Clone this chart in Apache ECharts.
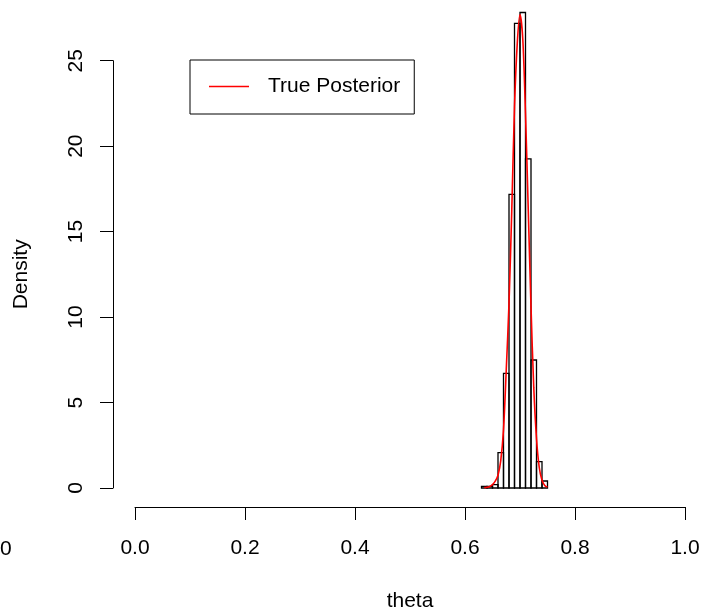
<!DOCTYPE html>
<html>
<head>
<meta charset="utf-8">
<script src="https://cdn.jsdelivr.net/npm/echarts@6/dist/echarts.min.js"></script>
<style>
html,body{margin:0;padding:0;background:#fff;}
#chart{width:708px;height:609px;}
</style>
</head>
<body>
<div id="chart"></div>
<script>
// Histogram bins (theta) and densities
const binStart = [0.63, 0.64, 0.65, 0.66, 0.67, 0.68, 0.69, 0.70, 0.71, 0.72, 0.73, 0.74];
const binEnd   = [0.64, 0.65, 0.66, 0.67, 0.68, 0.69, 0.70, 0.71, 0.72, 0.73, 0.74, 0.75];
const density  = [0.1, 0.1, 0.2, 2.07, 6.71, 17.18, 27.18, 27.82, 19.26, 7.49, 1.54, 0.41];

// True posterior curve
const curveX = [0.635, 0.64, 0.645, 0.65, 0.655, 0.66, 0.665, 0.67, 0.675, 0.68, 0.685, 0.69, 0.695, 0.70, 0.705, 0.71, 0.715, 0.72, 0.725, 0.73, 0.735, 0.74, 0.745, 0.75];
const curveY = [0.02, 0.04, 0.09, 0.2, 0.4, 0.75, 1.6, 3.4, 6.9, 10.8, 16.2, 22.3, 26.0, 27.7, 26.3, 21.9, 16.3, 10.6, 5.9, 2.9, 1.2, 0.45, 0.15, 0.05];

const xTicks = [0.0, 0.2, 0.4, 0.6, 0.8, 1.0];
const yTicks = [0, 5, 10, 15, 20, 25];

const FONT = '"Liberation Sans", Arial, Helvetica, sans-serif';
const chart = echarts.init(document.getElementById('chart'), null, {renderer: 'canvas'});

const histData = binStart.map((s, i) => [s, binEnd[i], density[i]]);
const curveData = curveX.map((x, i) => [x, curveY[i]]);

chart.setOption({
  animation: false,
  backgroundColor: '#fff',
  grid: {left: 135, right: 23, top: 60.7, bottom: 121, containLabel: false, outerBoundsMode: 'none'},
  xAxis: {
    type: 'value', min: xTicks[0], max: xTicks[xTicks.length - 1], interval: 0.2,
    offset: 19,
    name: 'theta', nameLocation: 'middle', nameGap: 84,
    nameTextStyle: {fontFamily: FONT, fontSize: 21, color: '#000'},
    axisLine: {show: true, onZero: false, lineStyle: {color: '#000', width: 1}},
    axisTick: {show: true, length: 13, lineStyle: {color: '#000'}},
    axisLabel: {fontFamily: FONT, fontSize: 21, color: '#000', margin: 31,
      formatter: v => v.toFixed(1)},
    splitLine: {show: false}
  },
  yAxis: {
    type: 'value', min: yTicks[0], max: yTicks[yTicks.length - 1], interval: 5,
    offset: 22,
    name: 'Density', nameLocation: 'middle', nameGap: 81, nameRotate: 90,
    nameTextStyle: {fontFamily: FONT, fontSize: 21, color: '#000'},
    axisLine: {show: true, onZero: false, lineStyle: {color: '#000', width: 1}},
    axisTick: {show: true, length: 13, lineStyle: {color: '#000'}},
    axisLabel: {fontFamily: FONT, fontSize: 21, color: '#000', margin: 26, rotate: 90},
    splitLine: {show: false}
  },
  legend: {
    data: ['True Posterior'],
    left: 190, top: 60,
    orient: 'vertical',
    borderColor: '#000', borderWidth: 1, borderRadius: 0,
    padding: [16, 14, 17, 19],
    itemWidth: 40, itemHeight: 14, itemGap: 0,
    icon: 'path://M0,7 L40,7 L40,8.5 L0,8.5 Z',
    textStyle: {fontFamily: FONT, fontSize: 21, color: '#000', padding: [0, 0, 0, 14]}
  },
  series: [
    {
      name: 'hist',
      type: 'custom',
      clip: false,
      data: histData,
      renderItem: function (params, api) {
        const p0 = api.coord([api.value(0), api.value(2)]);
        const p1 = api.coord([api.value(1), 0]);
        return {
          type: 'rect',
          shape: {x: p0[0], y: p0[1], width: p1[0] - p0[0], height: p1[1] - p0[1]},
          style: {fill: 'none', stroke: '#000', lineWidth: 1.3}
        };
      },
      z: 2
    },
    {
      name: 'True Posterior',
      type: 'line',
      clip: false,
      data: curveData,
      symbol: 'none',
      smooth: 0.3,
      itemStyle: {color: '#ff0000'},
      lineStyle: {color: '#ff0000', width: 1.6},
      z: 3
    }
  ],
  graphic: [
    {type: 'text', left: 0, top: 539,
     style: {text: '0', font: '21px ' + FONT, fill: '#000'}}
  ]
});
</script>
</body>
</html>
